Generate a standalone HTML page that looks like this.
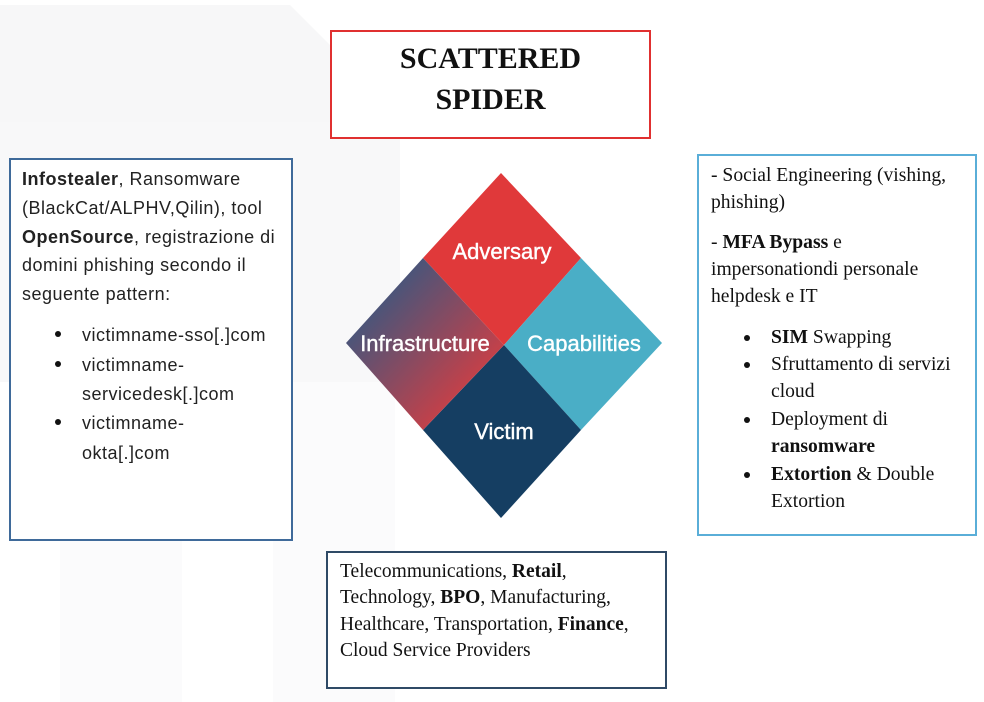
<!DOCTYPE html>
<html><head><meta charset="utf-8"><style>
body{margin:0;width:984px;height:702px;position:relative;background:#fff;overflow:hidden;font-family:"Liberation Sans",sans-serif}
.bx{position:absolute;box-sizing:border-box;background:#fff}
.t{position:absolute;white-space:nowrap;line-height:1}
.s{font-family:"Liberation Sans",sans-serif;font-size:18px;letter-spacing:0.5px;color:#222}
.r{font-family:"Liberation Serif",serif;font-size:19.6px;color:#111}
.d{position:absolute;width:6px;height:6px;border-radius:50%;background:#111}
</style></head><body>
<svg width="984" height="702" style="position:absolute;left:0;top:0">
<polygon points="0,5 290,5 330,45 330,122 0,122" fill="#f7f7f8"/>
<rect x="60" y="122" width="122" height="580" fill="#fbfbfc"/>
<rect x="273" y="122" width="122" height="580" fill="#fbfbfc"/>
<rect x="0" y="122" width="400" height="260" fill="#f8f8f9"/>
<defs><linearGradient id="g" x1="0" y1="0" x2="1" y2="1"><stop offset="0.1" stop-color="#2a5a86"/><stop offset="0.75" stop-color="#c2414a"/></linearGradient></defs>
<polygon points="501,173 581,258 504,345 423,258" fill="#e0393a"/>
<polygon points="581,258 662,343 581,430 504,345" fill="#4aaec6"/>
<polygon points="504,345 581,430 501,518 423,430" fill="#153e62"/>
<polygon points="423,258 504,345 423,430 346,343" fill="url(#g)"/>
<g font-family="Liberation Sans, sans-serif" font-size="22" fill="#fff" text-anchor="middle" stroke="#fff" stroke-width="0.4">
<text x="502" y="259">Adversary</text>
<text x="425" y="351">Infrastructure</text>
<text x="584" y="351">Capabilities</text>
<text x="504" y="439">Victim</text>
</g>
</svg>
<div class="bx" style="left:330px;top:30px;width:321px;height:109px;border:2px solid #e03030"></div>
<div class="t" style="left:330px;width:321px;text-align:center;top:42px;font:bold 30px 'Liberation Serif',serif;color:#111">SCATTERED</div>
<div class="t" style="left:330px;width:321px;text-align:center;top:83px;font:bold 30px 'Liberation Serif',serif;color:#111">SPIDER</div>

<div class="bx" style="left:9px;top:158px;width:284px;height:383px;border:2px solid #3f6a9a"></div>
<div class="t s" style="left:22px;top:170px"><b>Infostealer</b>, Ransomware</div>
<div class="t s" style="left:22px;top:199px">(BlackCat/ALPHV,Qilin), tool</div>
<div class="t s" style="left:22px;top:228px"><b>OpenSource</b>, registrazione di</div>
<div class="t s" style="left:22px;top:256px">domini phishing secondo il</div>
<div class="t s" style="left:22px;top:285px">seguente pattern:</div>
<div class="d" style="left:55px;top:331px"></div><div class="t s" style="left:82px;top:326px">victimname-sso[.]com</div>
<div class="d" style="left:55px;top:361px"></div><div class="t s" style="left:82px;top:356px">victimname-</div>
<div class="t s" style="left:82px;top:385px">servicedesk[.]com</div>
<div class="d" style="left:55px;top:419px"></div><div class="t s" style="left:82px;top:414px">victimname-</div>
<div class="t s" style="left:82px;top:444px">okta[.]com</div>

<div class="bx" style="left:697px;top:154px;width:280px;height:382px;border:2px solid #5aaed8"></div>
<div class="t r" style="left:711px;top:166px">- Social Engineering (vishing,</div>
<div class="t r" style="left:711px;top:193px">phishing)</div>
<div class="t r" style="left:711px;top:233px">- <b>MFA Bypass</b> e</div>
<div class="t r" style="left:711px;top:260px">impersonationdi personale</div>
<div class="t r" style="left:711px;top:287px">helpdesk e IT</div>
<div class="d" style="left:744px;top:335px"></div><div class="t r" style="left:771px;top:328px"><b>SIM</b> Swapping</div>
<div class="d" style="left:744px;top:362px"></div><div class="t r" style="left:771px;top:355px">Sfruttamento di servizi</div>
<div class="t r" style="left:771px;top:382px">cloud</div>
<div class="d" style="left:744px;top:417px"></div><div class="t r" style="left:771px;top:410px">Deployment di</div>
<div class="t r" style="left:771px;top:437px"><b>ransomware</b></div>
<div class="d" style="left:744px;top:472px"></div><div class="t r" style="left:771px;top:465px"><b>Extortion</b> &amp; Double</div>
<div class="t r" style="left:771px;top:492px">Extortion</div>

<div class="bx" style="left:326px;top:551px;width:341px;height:138px;border:2px solid #2f4a66"></div>
<div class="t r" style="left:340px;top:562px;font-size:19.5px">Telecommunications, <b>Retail</b>,</div>
<div class="t r" style="left:340px;top:588px;font-size:19.5px">Technology, <b>BPO</b>, Manufacturing,</div>
<div class="t r" style="left:340px;top:615px;font-size:19.5px">Healthcare, Transportation, <b>Finance</b>,</div>
<div class="t r" style="left:340px;top:641px;font-size:19.5px">Cloud Service Providers</div>
</body></html>
